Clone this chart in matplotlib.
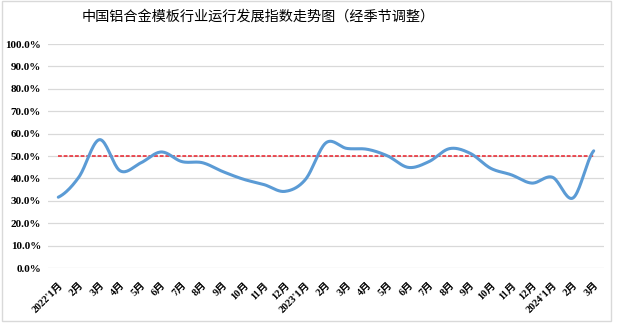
import numpy as np
import matplotlib
matplotlib.use('Agg')
from matplotlib import pyplot as plt
from matplotlib.patches import Rectangle

plt.rcParams['font.family'] = ['Liberation Serif', 'Noto Sans CJK SC']

months = ["2022'1月", '2月', '3月', '4月', '5月', '6月', '7月', '8月', '9月', '10月', '11月', '12月',
          "2023'1月", '2月', '3月', '4月', '5月', '6月', '7月', '8月', '9月', '10月', '11月', '12月',
          "2024'1月", '2月', '3月']
index_values = [31.6, 40.6, 57.3, 43.4, 46.9, 51.8, 47.5, 47.0, 43.0, 39.6, 37.2, 34.2,
                39.5, 55.9, 53.4, 53.0, 50.0, 44.9, 47.5, 53.3, 51.2, 44.5, 41.6, 37.9,
                40.5, 31.3, 52.3]
baseline = [50.0] * len(months)
title = '中国铝合金模板行业运行发展指数走势图（经季节调整）'


def smooth(y, n=20):
    # catmull-rom, like the "smoothed line" of a spreadsheet chart
    y = np.asarray(y, dtype=float)
    p = np.concatenate([[y[0]], y, [y[-1]]])
    xs, ys = [], []
    for i in range(len(y) - 1):
        p0, p1, p2, p3 = p[i], p[i + 1], p[i + 2], p[i + 3]
        t = np.linspace(0, 1, n, endpoint=False)
        v = 0.5 * (2 * p1 + (-p0 + p2) * t + (2 * p0 - 5 * p1 + 4 * p2 - p3) * t ** 2
                   + (-p0 + 3 * p1 - 3 * p2 + p3) * t ** 3)
        xs.append(i + t)
        ys.append(v)
    xs.append([len(y) - 1])
    ys.append([y[-1]])
    return np.concatenate(xs), np.concatenate(ys)


fig = plt.figure(figsize=(6.18, 3.23), dpi=100)
fig.patches.append(Rectangle((0.003, 0.006), 0.985, 0.99, transform=fig.transFigure,
                             fill=False, edgecolor='#D9D9D9', linewidth=1))
ax = fig.add_axes([48 / 618, 1 - 268 / 323, 556 / 618, 224 / 323])

x = np.arange(len(months))
sx, sy = smooth(index_values)
ax.plot(x, baseline, color='#E8202A', linestyle=(0, (2.5, 1.2)), linewidth=1.1, zorder=3)
ax.plot(sx, sy, color='#5B9BD5', linewidth=2.2, solid_capstyle='round', zorder=4)

ax.set_xlim(-0.5, len(months) - 0.5)
ax.set_ylim(0, 100)
ax.set_yticks(np.arange(0, 101, 10))
ax.set_yticklabels(['%.1f%%' % v for v in np.arange(0, 101, 10)], fontsize=8, fontweight='bold')
ax.set_xticks(x)
ax.set_xticklabels(months, rotation=45, ha='right', rotation_mode='anchor',
                   fontsize=7.5, fontweight='bold')
ax.tick_params(axis='x', length=0, pad=9)
ax.tick_params(axis='y', length=0, pad=5)
ax.grid(axis='y', color='#D9D9D9', linewidth=0.9)
ax.set_axisbelow(True)
for s in ax.spines.values():
    s.set_visible(False)

fig.text(258 / 618, 1 - 17 / 323, title, ha='center', va='center', fontsize=10.2,
         family=['Noto Sans CJK SC'])

fig.savefig('out.png', dpi=100)
